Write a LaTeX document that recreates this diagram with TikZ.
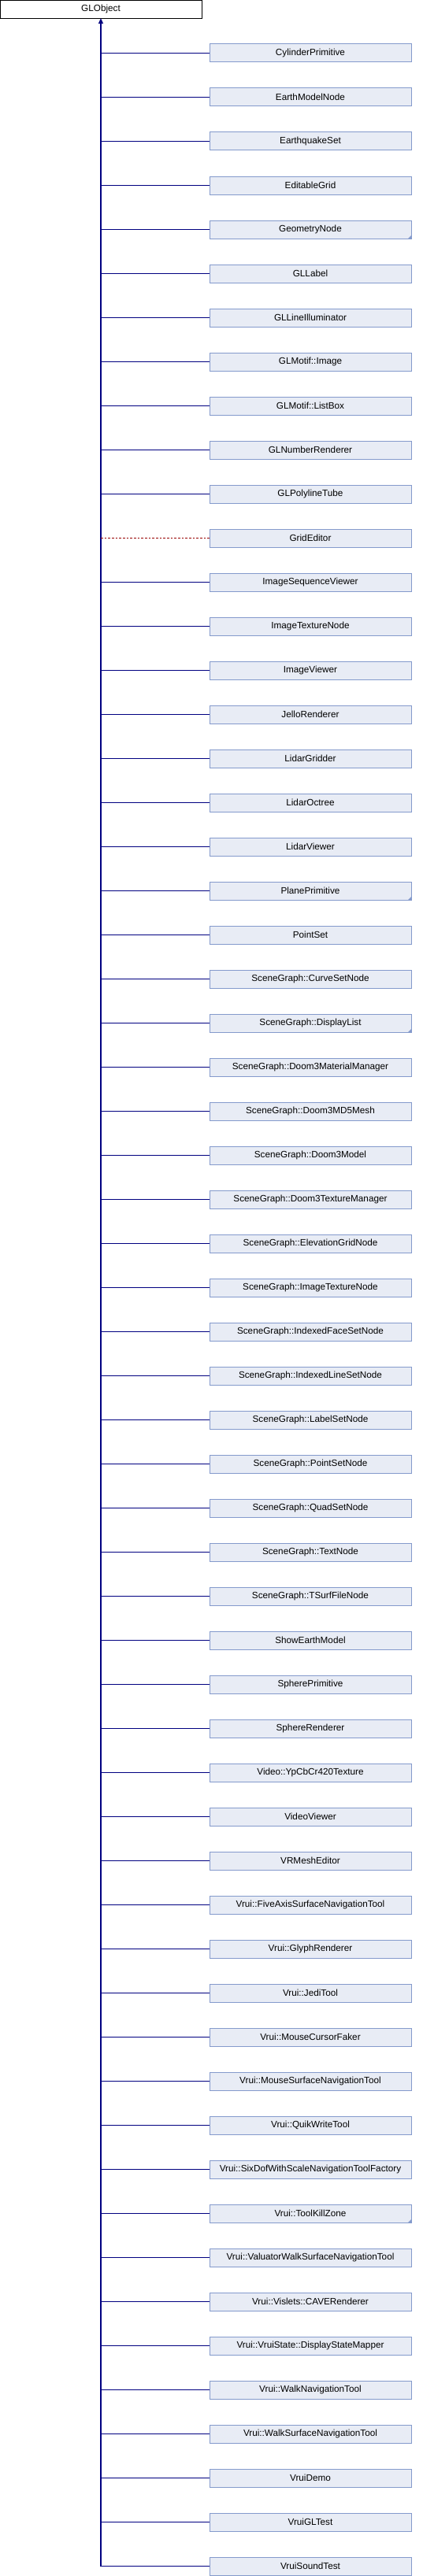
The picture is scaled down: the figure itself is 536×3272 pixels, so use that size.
\documentclass[tikz,border=0pt]{standalone}
\usepackage{fontspec}
\setmainfont{Liberation Sans}
\usepackage{xcolor}
\usetikzlibrary{arrows.meta}

\definecolor{boxfill}{RGB}{232,236,245}
\definecolor{boxline}{RGB}{132,154,204}
\definecolor{navyline}{RGB}{0,0,128}
\definecolor{tmplred}{RGB}{150,0,0}

\begin{document}
\begin{tikzpicture}[x=0.75pt, y=-0.75pt,
    every node/.style={font=\fontsize{8.8}{10}\selectfont, inner sep=0pt, outer sep=0pt},
    base/.style={draw=black, fill=white, line width=0.75pt, minimum width=192pt, minimum height=17.25pt},
    cls/.style={draw=boxline, fill=boxfill, line width=0.75pt, minimum width=192pt, minimum height=17.25pt},
    inherit/.style={draw=navyline, line width=0.8pt},
    tmpl/.style={draw=tmplred, line width=0.8pt, dashed, dash pattern=on 2pt off 1.5pt}]
    \useasboundingbox (0,0) rectangle (536,3272);

    \node[base] (obj) at (128, 11.75) {GLObject};

    \node[cls] (c1) at (394, 67.5) {CylinderPrimitive};
    \node[cls] (c2) at (394, 123.5) {EarthModelNode};
    \node[cls] (c3) at (394, 179.5) {EarthquakeSet};
    \node[cls] (c4) at (394, 235.5) {EditableGrid};
    \node[cls] (c5) at (394, 291.5) {GeometryNode};
    \node[cls] (c6) at (394, 347.5) {GLLabel};
    \node[cls] (c7) at (394, 403.5) {GLLineIlluminator};
    \node[cls] (c8) at (394, 459.5) {GLMotif::Image};
    \node[cls] (c9) at (394, 515.5) {GLMotif::ListBox};
    \node[cls] (c10) at (394, 571.5) {GLNumberRenderer};
    \node[cls] (c11) at (394, 627.5) {GLPolylineTube};
    \node[cls] (c12) at (394, 683.5) {GridEditor};
    \node[cls] (c13) at (394, 739.5) {ImageSequenceViewer};
    \node[cls] (c14) at (394, 795.5) {ImageTextureNode};
    \node[cls] (c15) at (394, 851.5) {ImageViewer};
    \node[cls] (c16) at (394, 907.5) {JelloRenderer};
    \node[cls] (c17) at (394, 963.5) {LidarGridder};
    \node[cls] (c18) at (394, 1019.5) {LidarOctree};
    \node[cls] (c19) at (394, 1075.5) {LidarViewer};
    \node[cls] (c20) at (394, 1131.5) {PlanePrimitive};
    \node[cls] (c21) at (394, 1187.5) {PointSet};
    \node[cls] (c22) at (394, 1243.5) {SceneGraph::CurveSetNode};
    \node[cls] (c23) at (394, 1299.5) {SceneGraph::DisplayList};
    \node[cls] (c24) at (394, 1355.5) {SceneGraph::Doom3MaterialManager};
    \node[cls] (c25) at (394, 1411.5) {SceneGraph::Doom3MD5Mesh};
    \node[cls] (c26) at (394, 1467.5) {SceneGraph::Doom3Model};
    \node[cls] (c27) at (394, 1523.5) {SceneGraph::Doom3TextureManager};
    \node[cls] (c28) at (394, 1579.5) {SceneGraph::ElevationGridNode};
    \node[cls] (c29) at (394, 1635.5) {SceneGraph::ImageTextureNode};
    \node[cls] (c30) at (394, 1691.5) {SceneGraph::IndexedFaceSetNode};
    \node[cls] (c31) at (394, 1747.5) {SceneGraph::IndexedLineSetNode};
    \node[cls] (c32) at (394, 1803.5) {SceneGraph::LabelSetNode};
    \node[cls] (c33) at (394, 1859.5) {SceneGraph::PointSetNode};
    \node[cls] (c34) at (394, 1915.5) {SceneGraph::QuadSetNode};
    \node[cls] (c35) at (394, 1971.5) {SceneGraph::TextNode};
    \node[cls] (c36) at (394, 2027.5) {SceneGraph::TSurfFileNode};
    \node[cls] (c37) at (394, 2083.5) {ShowEarthModel};
    \node[cls] (c38) at (394, 2139.5) {SpherePrimitive};
    \node[cls] (c39) at (394, 2195.5) {SphereRenderer};
    \node[cls] (c40) at (394, 2251.5) {Video::YpCbCr420Texture};
    \node[cls] (c41) at (394, 2307.5) {VideoViewer};
    \node[cls] (c42) at (394, 2363.5) {VRMeshEditor};
    \node[cls] (c43) at (394, 2419.5) {Vrui::FiveAxisSurfaceNavigationTool};
    \node[cls] (c44) at (394, 2475.5) {Vrui::GlyphRenderer};
    \node[cls] (c45) at (394, 2531.5) {Vrui::JediTool};
    \node[cls] (c46) at (394, 2587.5) {Vrui::MouseCursorFaker};
    \node[cls] (c47) at (394, 2643.5) {Vrui::MouseSurfaceNavigationTool};
    \node[cls] (c48) at (394, 2699.5) {Vrui::QuikWriteTool};
    \node[cls] (c49) at (394, 2755.5) {Vrui::SixDofWithScaleNavigationToolFactory};
    \node[cls] (c50) at (394, 2811.5) {Vrui::ToolKillZone};
    \node[cls] (c51) at (394, 2867.5) {Vrui::ValuatorWalkSurfaceNavigationTool};
    \node[cls] (c52) at (394, 2923.5) {Vrui::Vislets::CAVERenderer};
    \node[cls] (c53) at (394, 2979.5) {Vrui::VruiState::DisplayStateMapper};
    \node[cls] (c54) at (394, 3035.5) {Vrui::WalkNavigationTool};
    \node[cls] (c55) at (394, 3091.5) {Vrui::WalkSurfaceNavigationTool};
    \node[cls] (c56) at (394, 3147.5) {VruiDemo};
    \node[cls] (c57) at (394, 3203.5) {VruiGLTest};
    \node[cls] (c58) at (394, 3259.5) {VruiSoundTest};

    % classes with more children
    \foreach \i in {5,20,23,50}
        \fill[boxline] (c\i.south east) -- ++(0,-4) -- ++(-4,4) -- cycle;

    % trunk and branches
    \draw[inherit, {Triangle[width=4.5pt, length=5pt]}-] (obj.south) -- (obj.south |- c58.west);
    \foreach \i in {1,...,11}
        \draw[inherit] (obj.south |- c\i.west) -- (c\i.west);
    \foreach \i in {13,...,58}
        \draw[inherit] (obj.south |- c\i.west) -- (c\i.west);
    \draw[tmpl] (obj.south |- c12.west) -- (c12.west);
\end{tikzpicture}
\end{document}
